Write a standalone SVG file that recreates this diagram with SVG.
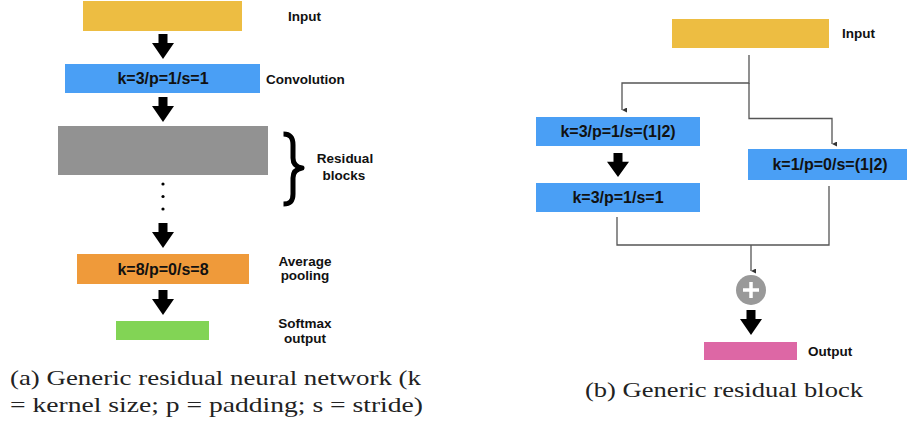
<svg xmlns="http://www.w3.org/2000/svg" xmlns:xlink="http://www.w3.org/1999/xlink" width="907" height="426" viewBox="0 0 907 426">
<style>
.lbl{font-family:"Liberation Sans",Arial,sans-serif;font-weight:bold;font-size:13.5px;fill:#111}
.btxt{font-family:"Liberation Sans",Arial,sans-serif;font-weight:bold;font-size:16px;fill:#111;text-anchor:middle}
.cap{font-family:"Liberation Serif","Times New Roman",serif;font-size:22px;fill:#222}
.conn{fill:none;stroke:#555;stroke-width:1.3}
.yellow{fill:#EDBD42}
.blue{fill:#4A9FF5}
</style>
<defs>
<path id="bigArrow" d="M-4.5,0 H4.5 V9 H11 L0,25 L-11,9 H-4.5 Z" fill="#000"/>
<marker id="tip" viewBox="0 0 6 6" refX="3" refY="6" markerWidth="5" markerHeight="5" markerUnits="userSpaceOnUse" orient="auto-start-reverse">
<path d="M0,0 L6,0 L3,6 Z" fill="#333"/>
</marker>
</defs>
<rect width="907" height="426" fill="#fff"/>

<!-- Left panel -->
<g id="a-input">
<rect class="yellow" x="83" y="1" width="159" height="30"/>
<text class="lbl" x="288" y="20.5">Input</text>
</g>
<g id="a-conv">
<rect class="blue" x="65" y="64" width="195" height="29"/>
<text class="btxt" x="163" y="84">k=3/p=1/s=1</text>
<text class="lbl" x="266" y="84">Convolution</text>
</g>
<g id="a-res">
<rect x="58" y="126" width="210" height="49" fill="#929292"/>
<path d="M283.5,134 C290,134 293,137 293,145 V158 C293,164 296,167 302,168 C296,169 293,172 293,178 V194 C293,201 290,204 283.5,204" fill="none" stroke="#000" stroke-width="5" stroke-linecap="butt" stroke-linejoin="round"/>
<text class="lbl" x="345" y="163" text-anchor="middle">Residual</text>
<text class="lbl" x="344" y="180" text-anchor="middle">blocks</text>
</g>
<g id="a-dots" fill="#000">
<circle cx="163" cy="184" r="1.6"/>
<circle cx="163" cy="196.5" r="1.6"/>
<circle cx="163" cy="209" r="1.6"/>
</g>
<g id="a-pool">
<rect x="77" y="254" width="172" height="30" fill="#EF9A3A"/>
<text class="btxt" x="163" y="275">k=8/p=0/s=8</text>
<text class="lbl" x="305" y="266" text-anchor="middle">Average</text>
<text class="lbl" x="305" y="280" text-anchor="middle">pooling</text>
</g>
<g id="a-softmax">
<rect x="116" y="321" width="93" height="19" fill="#82D455"/>
<text class="lbl" x="305" y="328" text-anchor="middle">Softmax</text>
<text class="lbl" x="305" y="343" text-anchor="middle">output</text>
</g>

<!-- Right panel -->
<g id="b-input">
<rect class="yellow" x="672" y="19" width="157" height="29"/>
<text class="lbl" x="842" y="38">Input</text>
</g>
<g id="b-conv1">
<rect class="blue" x="536" y="117" width="164" height="29"/>
<text class="btxt" x="618" y="137">k=3/p=1/s=(1|2)</text>
</g>
<g id="b-conv2">
<rect class="blue" x="536" y="183" width="164" height="29"/>
<text class="btxt" x="618" y="203">k=3/p=1/s=1</text>
</g>
<g id="b-short">
<rect class="blue" x="748" y="149" width="164" height="31"/>
<text class="btxt" x="830" y="170">k=1/p=0/s=(1|2)</text>
</g>
<g id="b-add">
<circle cx="751" cy="290" r="15" fill="#999"/>
<path d="M751,282 V298 M743,290 H759" stroke="#fff" stroke-width="3.5"/>
</g>
<g id="b-output">
<rect x="704" y="342" width="93" height="18" fill="#DD67A5"/>
<text class="lbl" x="808" y="356">Output</text>
</g>

<!-- Connectors -->
<g id="connectors">
<use xlink:href="#bigArrow" href="#bigArrow" transform="translate(163,34)"/>
<use xlink:href="#bigArrow" href="#bigArrow" transform="translate(163,97)"/>
<use xlink:href="#bigArrow" href="#bigArrow" transform="translate(163,223)"/>
<use xlink:href="#bigArrow" href="#bigArrow" transform="translate(163,290)"/>
<use xlink:href="#bigArrow" href="#bigArrow" transform="translate(618,153) scale(1,0.96)"/>
<use xlink:href="#bigArrow" href="#bigArrow" transform="translate(751,310)"/>
<path class="conn" d="M749,55 V83 H622 V110" marker-end="url(#tip)"/>
<path class="conn" d="M749,83 V118.5 H832 V144" marker-end="url(#tip)"/>
<path class="conn" d="M617,217 V245 H829 V186"/>
<path class="conn" d="M751,245 V271" marker-end="url(#tip)"/>
</g>

<!-- Captions -->
<g id="captions">
<text class="cap" x="10" y="385" textLength="411" lengthAdjust="spacingAndGlyphs">(a) Generic residual neural network (k</text>
<text class="cap" x="10" y="412" textLength="413" lengthAdjust="spacingAndGlyphs">= kernel size; p = padding; s = stride)</text>
<text class="cap" x="585" y="397" textLength="278" lengthAdjust="spacingAndGlyphs">(b) Generic residual block</text>
</g>
</svg>
